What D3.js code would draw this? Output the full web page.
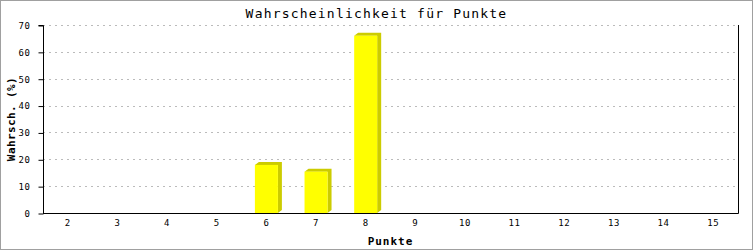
<!DOCTYPE html>
<html>
<head>
<meta charset="utf-8">
<script src="https://cdn.jsdelivr.net/npm/d3@7"></script>
<style>
  body { margin: 0; background: #fff; }
  svg { display: block; }
</style>
</head>
<body>
<svg width="753" height="250"></svg>
<script>
const categories = ["2", "3", "4", "5", "6", "7", "8", "9", "10", "11", "12", "13", "14", "15"]
const values = [0, 0, 0, 0, 17.9, 15.4, 66.0, 0, 0, 0, 0, 0, 0, 0]
const yTicks = [0, 10, 20, 30, 40, 50, 60, 70]

const svg = d3.select('svg')
const width = +svg.attr('width')
const height = +svg.attr('height')
const margin = { top: 25, right: 15, bottom: 37, left: 43 }
const mono = "'DejaVu Sans Mono', monospace"

// frame
svg.append('rect')
    .attr('x', 0.5).attr('y', 0.5)
    .attr('width', width - 1).attr('height', height - 1)
    .attr('fill', '#fff')
    .attr('stroke', '#a0a0a0')

const xScale = d3.scaleBand()
    .domain(categories)
    .range([margin.left, width - margin.right])

const yScale = d3.scaleLinear()
    .domain([0, 70])
    .range([height - margin.bottom, margin.top])

// grid
svg.append('g')
    .selectAll('line').data(yTicks.filter(d => d > 0)).enter()
    .append('line')
    .attr('x1', margin.left).attr('x2', width - margin.right)
    .attr('y1', d => Math.round(yScale(d)) + 0.5)
    .attr('y2', d => Math.round(yScale(d)) + 0.5)
    .attr('stroke', '#bbb')
    .attr('stroke-dasharray', '2,4')

// bars (front + side + top for the 3D look)
const depthX = 4, depthY = 3
const barW = 23
const bars = svg.append('g')
    .selectAll('g').data(values.map((v, i) => ({ cat: categories[i], v: v })).filter(d => d.v > 0)).enter()
    .append('g')

bars.append('path')
    .attr('fill', '#cccc00')
    .attr('d', d => {
        let x0 = xScale(d.cat) + xScale.bandwidth() / 2 - barW / 2
        let x1 = x0 + barW
        let yt = yScale(d.v)
        let yb = yScale(0)
        return 'M' + x0 + ',' + yt + 'L' + (x0 + depthX) + ',' + (yt - depthY) +
            'L' + (x1 + depthX) + ',' + (yt - depthY) + 'L' + (x1 + depthX) + ',' + (yb - depthY) +
            'L' + x1 + ',' + yb + 'L' + x1 + ',' + yt + 'Z'
    })

bars.append('rect')
    .attr('fill', '#ffff00')
    .attr('x', d => xScale(d.cat) + xScale.bandwidth() / 2 - barW / 2)
    .attr('y', d => yScale(d.v))
    .attr('width', barW)
    .attr('height', d => yScale(0) - yScale(d.v))

// axes
const yAxis = d3.axisLeft(yScale)
    .tickValues(yTicks)
    .tickSize(5)
    .tickPadding(8)

const gy = svg.append('g')
    .attr('transform', 'translate(' + (margin.left + 0.5) + ',0.5)')
    .call(yAxis)
gy.select('.domain').attr('stroke', '#000').attr('d', 'M-5,' + yScale(70) + 'H0V' + yScale(0))
gy.selectAll('text')
    .style('font-family', mono)
    .style('font-size', '9px')
    .style('letter-spacing', '0.6px')
    .attr('fill', '#000')

const xAxis = d3.axisBottom(xScale)
    .tickSize(0)
    .tickPadding(6)

const gx = svg.append('g')
    .attr('transform', 'translate(0,' + (yScale(0) + 0.5) + ')')
    .call(xAxis)
gx.select('.domain').attr('stroke', '#000').attr('d', 'M' + margin.left + ',0H' + (width - margin.right + 0.5))
gx.selectAll('text')
    .style('font-family', mono)
    .style('font-size', '9px')
    .style('letter-spacing', '0.6px')
    .attr('fill', '#000')

// right side line
svg.append('line')
    .attr('x1', width - margin.right + 0.5).attr('x2', width - margin.right + 0.5)
    .attr('y1', yScale(70)).attr('y2', yScale(0) + 0.5)
    .attr('stroke', '#000')

// titles
svg.append('text')
    .attr('x', width / 2)
    .attr('y', 18)
    .attr('text-anchor', 'middle')
    .style('font-family', mono)
    .style('font-size', '13px')
    .style('letter-spacing', '1.2px')
    .text('Wahrscheinlichkeit für Punkte')

svg.append('text')
    .attr('x', (margin.left + width - margin.right) / 2)
    .attr('y', 245)
    .attr('text-anchor', 'middle')
    .style('font-family', mono)
    .style('font-size', '11px')
    .style('font-weight', 'bold')
    .style('letter-spacing', '1px')
    .text('Punkte')

svg.append('text')
    .attr('transform', 'translate(15,' + ((margin.top + height - margin.bottom) / 2) + ') rotate(-90)')
    .attr('text-anchor', 'middle')
    .style('font-family', mono)
    .style('font-size', '11px')
    .style('font-weight', 'bold')
    .style('letter-spacing', '0.4px')
    .text('Wahrsch. (%)')
</script>
</body>
</html>
